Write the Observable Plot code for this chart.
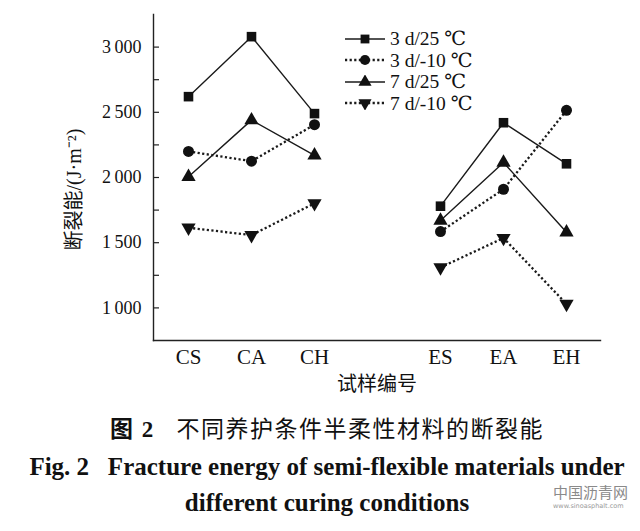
<!DOCTYPE html>
<html>
<head>
<meta charset="utf-8">
<script src="https://cdn.jsdelivr.net/npm/d3@7"></script>
<script src="https://cdn.jsdelivr.net/npm/@observablehq/plot@0.6"></script>
<style>
  body { margin: 0; background: #fff; }
  #wrap { position: relative; width: 640px; height: 531px; }
  #legend { position: absolute; left: 344px; top: 28px; font-family: "Liberation Serif", "DejaVu Serif", serif; font-size: 19.5px; color: #111; }
  .row { display: flex; align-items: center; height: 21.5px; }
  .row svg { margin-right: 4px; }
  #caption { text-align: center; color: #111; padding-left: 14px; }
  .c1 { font-family: "Liberation Serif", "Noto Sans CJK SC", sans-serif; font-size: 23px; letter-spacing: 1.5px; margin-top: 11px; height: 38px; line-height: 38px; }
  .c2 { font-family: "Liberation Serif", serif; font-weight: bold; font-size: 25px; line-height: 36px; }
  .wm { position: absolute; left: 553px; top: 484px; font-family: "Noto Sans CJK SC", sans-serif; font-size: 15px; line-height: 16px; color: #8a8a8a; }
  .wm small { display: block; margin-top: 2px; font-family: "DejaVu Sans", sans-serif; font-size: 6.5px; line-height: 8px; color: #999; }
</style>
</head>
<body>
<div id="wrap">
  <div id="chart"></div>
  <div id="legend"></div>
  <div id="caption">
    <div class="c1"><b>图 2</b>&nbsp;&nbsp;&nbsp;不同养护条件半柔性材料的断裂能</div>
    <div class="c2">Fig. 2&nbsp;&nbsp;&nbsp;Fracture energy of semi-flexible materials under<br>different curing conditions</div>
  </div>
  <div class="wm">中国沥青网<small>www.sinoasphalt.com</small></div>
</div>
<script>
const categories = ["CS", "CA", "CH", "ES", "EA", "EH"];
const groups = ["C", "C", "C", "E", "E", "E"];
const xDomain = ["CS", "CA", "CH", "gap", "ES", "EA", "EH"];
const seriesNames = ["3 d/25 ℃", "3 d/-10 ℃", "7 d/25 ℃", "7 d/-10 ℃"];
const v3d25 = [2620, 3080, 2490, 1780, 2420, 2105];
const v3dm10 = [2200, 2125, 2405, 1585, 1910, 2515];
const v7d25 = [2005, 2440, 2170, 1670, 2115, 1580];
const v7dm10 = [1615, 1558, 1802, 1310, 1536, 1030];
const yTickLabels = [1000, 1500, 2000, 2500, 3000];
const yTickMarks = [1000, 1250, 1500, 1750, 2000, 2250, 2500, 2750, 3000];

const seriesValues = [v3d25, v3dm10, v7d25, v7dm10];
const DOT = "2.2,2.4";
const styles = [
  {dash: null, symbol: "square", rotate: 0, r: 5.4},
  {dash: DOT, symbol: "circle", rotate: 0, r: 5.5},
  {dash: null, symbol: "triangle", rotate: 0, r: 5.3},
  {dash: DOT, symbol: "triangle", rotate: 180, r: 5.3}
];

const rows = [];
seriesValues.forEach((vals, si) => {
  vals.forEach((v, i) => rows.push({series: seriesNames[si], si, cat: categories[i], group: groups[i], value: v}));
});

const fmt = d => d3.format(",")(d).replace(",", "\u2009");

const W = 640, H = 400, ML = 153, MR = 40, MT = 14, MB = 60, TICK = 5;

const lineMarks = [];
const dotMarks = [];
styles.forEach((s, si) => {
  const data = rows.filter(d => d.si === si);
  lineMarks.push(Plot.line(data, {
    x: "cat", y: "value", z: "group", stroke: "#1a1a1a",
    strokeWidth: s.dash ? 2.3 : 1.4, strokeDasharray: s.dash, strokeLinecap: "butt"
  }));
  dotMarks.push(Plot.dot(data, {
    x: "cat", y: "value", symbol: s.symbol, r: s.r, rotate: s.rotate, fill: "#111", stroke: "none"
  }));
});

const chart = Plot.plot({
  width: W,
  height: H,
  marginLeft: ML,
  marginRight: MR,
  marginTop: MT,
  marginBottom: MB,
  style: {fontFamily: "'Liberation Serif', serif", color: "#111", background: "#fff"},
  x: {type: "point", domain: xDomain, padding: 0.5},
  y: {domain: [750, 3250]},
  marks: [
    Plot.frame({anchor: "left", stroke: "#222", strokeWidth: 1.4}),
    Plot.frame({anchor: "bottom", stroke: "#222", strokeWidth: 1.4}),
    Plot.axisY({ticks: yTickMarks, anchor: "right", tickSize: TICK, dx: -(W - ML - MR), tickFormat: () => "", label: null, stroke: "#222", strokeWidth: 1.2}),
    Plot.axisY({ticks: yTickLabels, tickSize: 0, tickPadding: 12, tickFormat: fmt, fontSize: 18,
      label: "断裂能/(J·m⁻²)", labelAnchor: "center", labelArrow: "none", labelOffset: 87}),
    Plot.axisX({ticks: categories, tickSize: 0, tickPadding: 9, fontSize: 21,
      label: "试样编号", labelAnchor: "center", labelArrow: "none", labelOffset: 50}),
    ...lineMarks,
    ...dotMarks
  ]
});
document.getElementById("chart").appendChild(chart);
chart.querySelectorAll("[aria-label='y-axis label'] text, [aria-label='x-axis label'] text").forEach(t => {
  t.style.fontFamily = "'Liberation Serif', 'Noto Sans CJK SC', serif";
  t.style.fontSize = "20px";
});
const yl = chart.querySelector("[aria-label='y-axis label']");
if (yl) yl.setAttribute("transform", ((yl.getAttribute("transform") || "") + " translate(0,12)").trim());

// legend
const legend = d3.select("#legend");
styles.forEach((s, si) => {
  const row = legend.append("div").attr("class", "row");
  const svg = row.append("svg").attr("width", 42).attr("height", 14);
  svg.append("line").attr("x1", 1).attr("x2", 41).attr("y1", 7).attr("y2", 7)
    .attr("stroke", "#1a1a1a").attr("stroke-width", s.dash ? 2.3 : 1.4)
    .attr("stroke-dasharray", s.dash).attr("stroke-linecap", "butt");
  const sym = s.symbol === "square" ? d3.symbolSquare : s.symbol === "circle" ? d3.symbolCircle : d3.symbolTriangle;
  const area = Math.PI * s.r * s.r * 0.85;
  svg.append("path").attr("d", d3.symbol(sym, area)()).attr("fill", "#111")
    .attr("transform", `translate(21,7) rotate(${s.rotate})`);
  row.append("span").text(seriesNames[si]);
});
</script>
</body>
</html>
